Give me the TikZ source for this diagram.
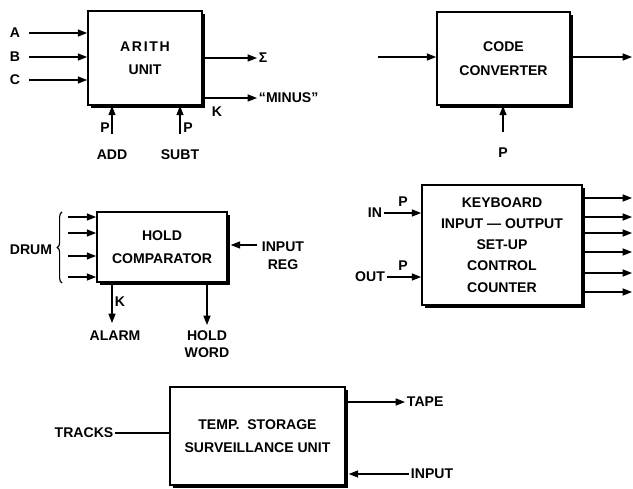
\documentclass[tikz,border=0pt]{standalone}
\usepackage{fontspec}
\setmainfont{Liberation Sans}
\usepackage{tikz}
\usetikzlibrary{arrows.meta, positioning, shadows, decorations.pathreplacing}

\begin{document}
\begin{tikzpicture}[
    x=0.03cm, y=-0.03cm,
    unit/.style={rectangle, draw=black, fill=white, line width=1.4pt, align=center, font=\fontsize{12}{20}\selectfont\bfseries,
        drop shadow={shadow xshift=2.5pt, shadow yshift=-2.5pt, fill=black, opacity=1}},
    flow/.style={line width=1.1pt, -{Triangle[length=8pt, width=6pt]}},
    wire/.style={line width=1.1pt},
    txt/.style={font=\fontsize{12}{15}\selectfont\bfseries, inner sep=1.5pt, align=center}
]
    \useasboundingbox (0,0) rectangle (633,489);

    % Arithmetic unit
    \node[unit, minimum width=3.42cm, minimum height=2.82cm] (arith) at (145,58)
        {\addfontfeature{LetterSpace=12}ARITH\\UNIT};
    \node[txt] (ina) at (15,33) {A};
    \node[txt] (inb) at (15,57) {B};
    \node[txt] (inc) at (15,80) {C};
    \foreach \n in {ina,inb,inc}
        \draw[flow] ([xshift=6pt]\n.east) -- (\n -| arith.west);
    \node[txt, anchor=west] (sum) at (257,58) {Σ};
    \node[txt, anchor=west] (minus) at (257,98) {``MINUS''};
    \draw[flow] (sum -| arith.east) -- (sum.west);
    \draw[flow] (minus -| arith.east) -- (minus.west);
    \node[txt] (k1) at (217,112) {K};
    \node[txt] (add) at (112,155) {ADD};
    \node[txt] (subt) at (180,155) {SUBT};
    \draw[flow] ([yshift=12pt]add.north) -- (add |- arith.south);
    \draw[flow] ([yshift=12pt]subt.north) -- (subt |- arith.south);
    \node[txt] (p1) at (105,128) {P};
    \node[txt] (p2) at (188,128) {P};

    % Code converter
    \node[unit, minimum width=3.99cm, minimum height=2.79cm] (conv) at (503.5,58.5) {CODE\\CONVERTER};
    \coordinate (convin) at (378,57);
    \coordinate (convout) at (632,57);
    \draw[flow] (convin) -- (convin -| conv.west);
    \draw[flow] (convout -| conv.east) -- (convout);
    \node[txt] (pconv) at (503,153) {P};
    \draw[flow] ([yshift=12pt]pconv.north) -- (pconv |- conv.south);

    % Hold comparator
    \node[unit, minimum width=3.9cm, minimum height=2.1cm] (hold) at (162,247) {HOLD\\COMPARATOR};
    \foreach \y [count=\i] in {217,233,256,277} {
        \coordinate (drum\i) at (68,\y);
        \draw[flow] (drum\i) -- (drum\i -| hold.west);
    }
    \draw[line width=1pt, decorate, decoration={brace, amplitude=4pt}] (62,283) -- (62,212);
    \node[txt] (drum) at (31,250) {DRUM};
    \node[txt] (ireg) at (283,256) {INPUT\\REG};
    \coordinate (iregin) at (257,245);
    \draw[flow] (iregin) -- ([xshift=2.5pt]iregin -| hold.east);
    \coordinate (alarmend) at (112,323);
    \draw[flow] (alarmend |- hold.south) -- (alarmend);
    \node[txt] (k2) at (120,302) {K};
    \node[txt] (alarm) at (115,336) {ALARM};
    \coordinate (wordend) at (207,325);
    \draw[flow] (wordend |- hold.south) -- (wordend);
    \node[txt] (hword) at (207,344) {HOLD\\WORD};

    % Keyboard
    \node[unit, minimum width=4.8cm, minimum height=3.6cm, font=\fontsize{12}{18}\selectfont\bfseries] (kbd) at (502,245)
        {KEYBOARD\\INPUT --- OUTPUT\\SET-UP\\CONTROL\\COUNTER};
    \node[txt] (kin) at (375,213) {IN};
    \node[txt] (kout) at (370,277) {OUT};
    \draw[flow] (kin) -- (kin -| kbd.west);
    \draw[flow] (kout) -- (kout -| kbd.west);
    \node[txt] (p3) at (403,202) {P};
    \node[txt] (p4) at (403,266) {P};
    \foreach \y [count=\i] in {198,217,233,252,273,292} {
        \coordinate (kb\i) at (632,\y);
        \draw[flow] (kb\i -| kbd.east) -- (kb\i);
    }

    % Temp storage
    \node[unit, minimum width=5.25cm, minimum height=2.94cm] (temp) at (257.5,436) {TEMP.~~STORAGE\\SURVEILLANCE UNIT};
    \node[txt] (tracks) at (84,433) {TRACKS};
    \draw[wire] (tracks) -- (tracks -| temp.west);
    \node[txt, anchor=west] (tape) at (405,402) {TAPE};
    \draw[flow] (tape -| temp.east) -- (tape.west);
    \node[txt, anchor=west] (tinput) at (409,474) {INPUT};
    \draw[flow] (tinput.west) -- ([xshift=2.5pt]tinput -| temp.east);
\end{tikzpicture}
\end{document}
